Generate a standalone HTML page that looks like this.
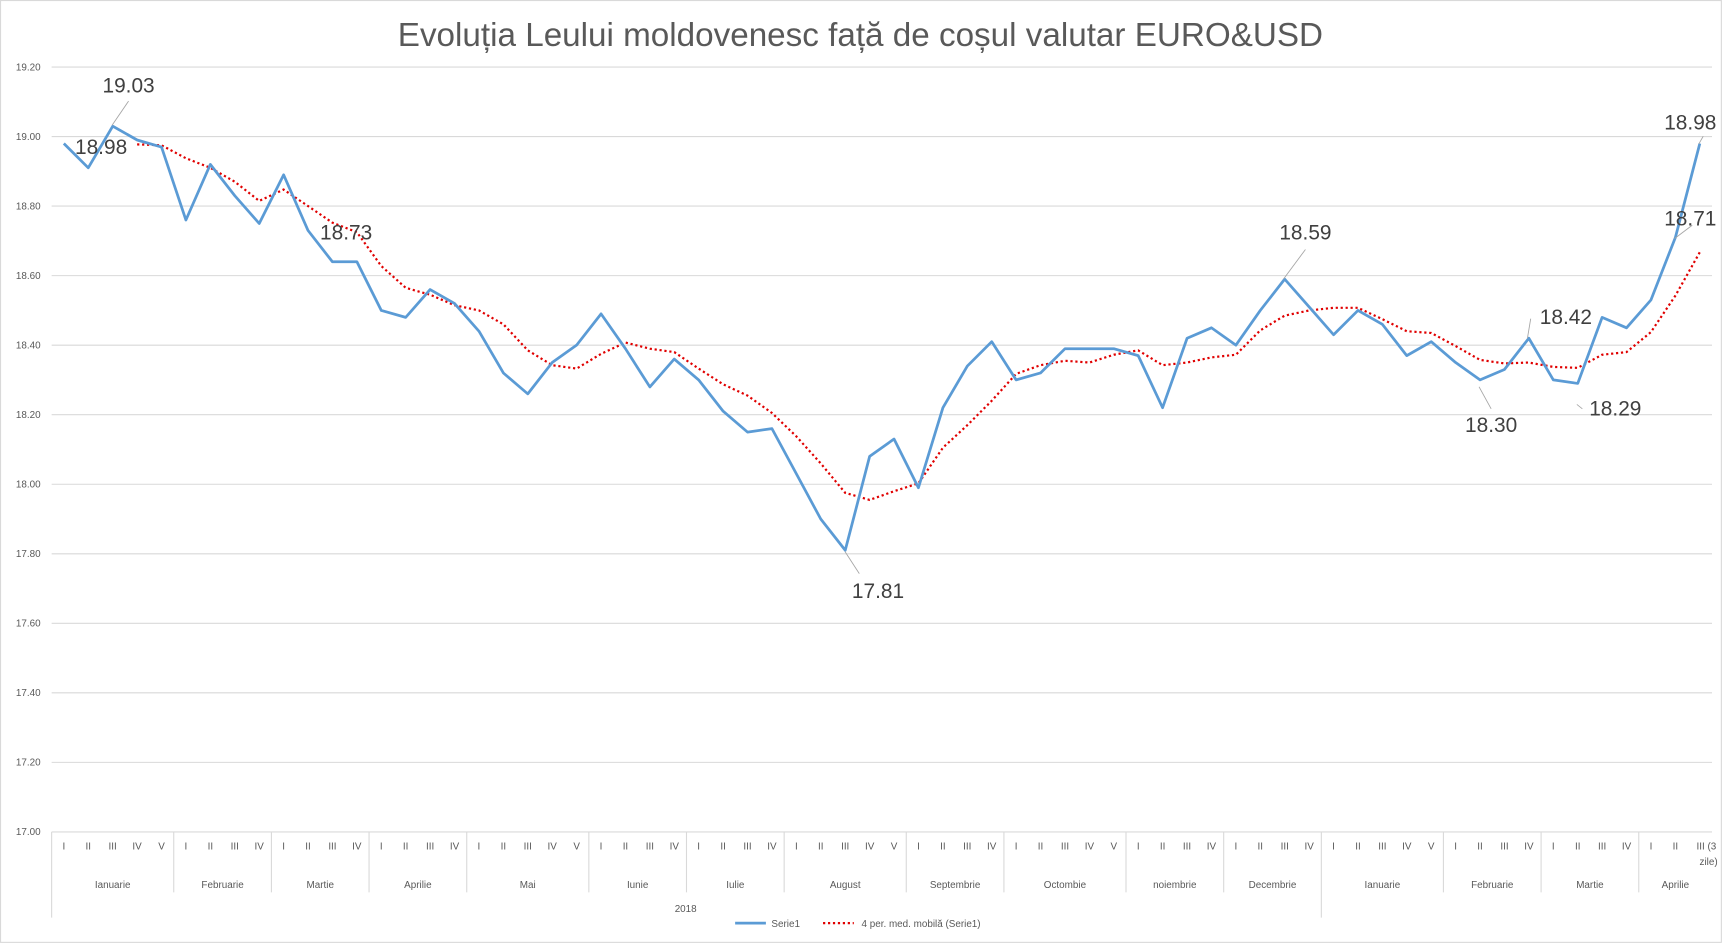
<!DOCTYPE html>
<html><head><meta charset="utf-8"><style>
html,body{margin:0;padding:0;background:#fff;}
svg{display:block;font-family:"Liberation Sans",sans-serif;}
</style></head><body>
<svg id="c" width="1723" height="944" viewBox="0 0 1568 859" preserveAspectRatio="none" xmlns="http://www.w3.org/2000/svg">
<rect x="0.5" y="0.5" width="1566" height="857" fill="#fff" stroke="#d9d9d9"/>
<text x="362" y="42" font-size="30" fill="#595959" textLength="842" lengthAdjust="spacingAndGlyphs">Evoluția Leului moldovenesc față de coșul valutar EURO&amp;USD</text>
<g id="grid"></g><g id="axis"></g><g id="series"></g><g id="labels"></g>
<g font-size="9" fill="#595959">
<line x1="669" y1="840" x2="697" y2="840" stroke="#5b9bd5" stroke-width="2.5"/>
<text x="702" y="843.5">Serie1</text>
<line x1="749" y1="840" x2="777" y2="840" stroke="#e00000" stroke-width="2" stroke-dasharray="2,2.5"/>
<text x="784" y="843.5">4 per. med. mobilă (Serie1)</text>
</g>
</svg>
<script>
var NS="http://www.w3.org/2000/svg";
function el(p,t,a,txt){var e=document.createElementNS(NS,t);for(var k in a)e.setAttribute(k,a[k]);if(txt!=null)e.textContent=txt;document.getElementById(p).appendChild(e);return e;}
var L=47,R=1558,T=61,B=757,N=68,W=(R-L)/N;
function Y(v){return T+(19.2-v)/2.2*(B-T);}
function X(i){return L+W*(i+0.5);}
for(var k=0;k<=11;k++){var v=17+0.2*k,y=Y(v);
 el("grid","line",{x1:L,x2:R,y1:y,y2:y,stroke:"#d9d9d9","stroke-width":1});
 el("grid","text",{x:37,y:y+3,"text-anchor":"end","font-size":9,fill:"#595959"},v.toFixed(2));}
var months=[["Ianuarie",5],["Februarie",4],["Martie",4],["Aprilie",4],["Mai",5],["Iunie",4],["Iulie",4],["August",5],["Septembrie",4],["Octombie",5],["noiembrie",4],["Decembrie",4],["Ianuarie",5],["Februarie",4],["Martie",4],["Aprilie",3]];
var rom=["I","II","III","IV","V"],idx=0;
el("axis","line",{x1:L,x2:L,y1:B,y2:835,stroke:"#d9d9d9"});
months.forEach(function(m,mi){
 var s=idx;
 for(var j=0;j<m[1];j++){var lab=rom[j];
  if(mi==15&&j==2){el("axis","text",{x:X(idx)+6,y:773,"text-anchor":"middle","font-size":9,fill:"#595959"},"III (3");
   el("axis","text",{x:X(idx)+8,y:787,"text-anchor":"middle","font-size":9,fill:"#595959"},"zile)");}
  else el("axis","text",{x:X(idx),y:773,"text-anchor":"middle","font-size":9,fill:"#595959"},lab);
  idx++;}
 el("axis","text",{x:L+W*(s+idx)/2,y:808,"text-anchor":"middle","font-size":9,fill:"#595959"},m[0]);
 var xe=L+W*idx; if(mi<15) el("axis","line",{x1:xe,x2:xe,y1:B,y2:(mi==11?835:812),stroke:"#d9d9d9"});
});
el("axis","text",{x:624,y:830,"text-anchor":"middle","font-size":9,fill:"#595959"},"2018");
var d=[18.98,18.91,19.03,18.99,18.97,18.76,18.92,18.83,18.75,18.89,18.73,18.64,18.64,18.50,18.48,18.56,18.52,18.44,18.32,18.26,18.35,18.40,18.49,18.39,18.28,18.36,18.30,18.21,18.15,18.16,18.03,17.90,17.81,18.08,18.13,17.99,18.22,18.34,18.41,18.30,18.32,18.39,18.39,18.39,18.37,18.22,18.42,18.45,18.40,18.50,18.59,18.51,18.43,18.50,18.46,18.37,18.41,18.35,18.30,18.33,18.42,18.30,18.29,18.48,18.45,18.53,18.71,18.98];
var p=d.map(function(v,i){return X(i).toFixed(1)+","+Y(v).toFixed(1)}).join(" ");
var ma=[];for(var i=3;i<d.length;i++){ma.push(X(i).toFixed(1)+","+Y((d[i]+d[i-1]+d[i-2]+d[i-3])/4).toFixed(1));}
el("series","polyline",{points:ma.join(" "),fill:"none",stroke:"#e00000","stroke-width":2,"stroke-dasharray":"2,2.5"});
el("series","polyline",{points:p,fill:"none",stroke:"#5b9bd5","stroke-width":2.5,"stroke-linejoin":"round"});
var labs=[["19.03",117,84],["18.98",92,140],["18.73",315,218],["17.81",799,544],["18.59",1188,218],["18.30",1357,393],["18.42",1425,295],["18.29",1470,378],["18.71",1562,205,"end"],["18.98",1562,118,"end"]];
labs.forEach(function(l){el("labels","text",{x:l[1],y:l[2],"text-anchor":l[3]||"middle","font-size":19,fill:"#404040"},l[0]);});
[[102,114,117,92],[769,502,782,522],[1168,254,1188,227],[1346,352,1357,372],[1390,308,1393,290],[1435,368,1440,372],[1524,217,1540,205],[1546,131,1550,124]].forEach(function(a){el("labels","line",{x1:a[0],y1:a[1],x2:a[2],y2:a[3],stroke:"#a6a6a6","stroke-width":0.8});});
</script>
</body></html>
